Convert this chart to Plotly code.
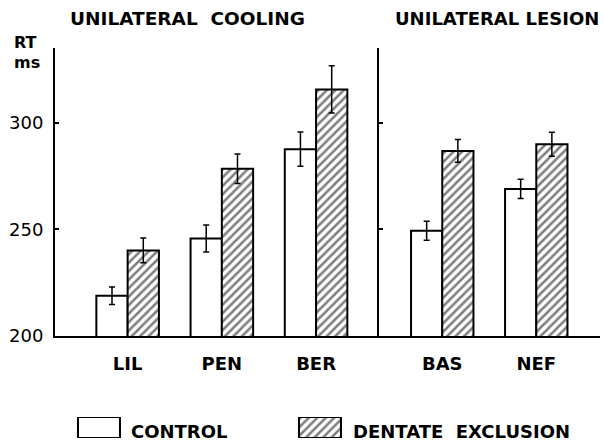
import plotly.graph_objects as go

# ---- data ----
cooling_cats = ["LIL", "PEN", "BER"]
cooling_control = [218.8, 245.7, 287.5]
cooling_control_err = [4.1, 6.3, 8.0]
cooling_dentate = [240.1, 278.3, 315.5]
cooling_dentate_err = [5.8, 6.9, 11.1]

lesion_cats = ["BAS", "NEF"]
lesion_control = [249.3, 268.9]
lesion_control_err = [4.5, 4.5]
lesion_dentate = [286.7, 289.8]
lesion_dentate_err = [5.3, 5.6]

y_ticks = [200, 250, 300]
legend_names = ["CONTROL", "DENTATE EXCLUSION"]

# ---- style ----
FONT = "DejaVu Sans"
BLACK = "black"
W, H = 604, 443
ML, MR, MT, MB = 55, 4, 48, 0
PW, PH = W - ML - MR, H - MT - MB


def px_x(px):
    return (px - ML) / PW


def px_y(py):
    return (H - MB - py) / PH


split = px_x(379)
main_bottom = px_y(336)

hatch = dict(shape="/", size=6, solidity=0.42, fgcolor=BLACK, bgcolor="white")
outline = dict(color=BLACK, width=2)
err_style = dict(type="data", color=BLACK, thickness=1.5, width=3)

fig = go.Figure()


def add_pair(cats, ctrl, ctrl_err, dent, dent_err, xa, ya):
    fig.add_trace(go.Bar(
        x=cats, y=ctrl, xaxis=xa, yaxis=ya,
        marker=dict(color="white", line=outline),
        error_y=dict(array=ctrl_err, **err_style),
        name=legend_names[0], showlegend=False, cliponaxis=False,
    ))
    fig.add_trace(go.Bar(
        x=cats, y=dent, xaxis=xa, yaxis=ya,
        marker=dict(color="white", line=outline, pattern=hatch),
        error_y=dict(array=dent_err, **err_style),
        name=legend_names[1], showlegend=False, cliponaxis=False,
    ))


add_pair(cooling_cats, cooling_control, cooling_control_err,
         cooling_dentate, cooling_dentate_err, "x", "y")
add_pair(lesion_cats, lesion_control, lesion_control_err,
         lesion_dentate, lesion_dentate_err, "x2", "y2")

# legend swatches drawn as bars on a hidden axis
fig.add_trace(go.Bar(
    x=legend_names, y=[1, 1], width=0.19, xaxis="x3", yaxis="y3",
    marker=dict(color="white", line=outline,
                pattern=dict(shape=["", "/"], size=6, solidity=0.42,
                             fgcolor=BLACK, bgcolor="white")),
    showlegend=False, cliponaxis=False, hoverinfo="skip",
))

cat_font = dict(family=FONT, size=18, color=BLACK, weight="bold")
yrange = [200, 334.9]

fig.update_layout(
    width=W, height=H, autosize=False,
    margin=dict(l=ML, r=MR, t=MT, b=MB, pad=0, autoexpand=False),
    paper_bgcolor="white", plot_bgcolor="white",
    barmode="group", bargap=0.336, bargroupgap=0,
    showlegend=False,
    font=dict(family=FONT, color=BLACK),
    xaxis=dict(domain=[0, split], anchor="y", range=[-0.771, 2.668],
               showline=True, linecolor=BLACK, linewidth=2, ticks="",
               showgrid=False, zeroline=False, tickfont=cat_font,
               ticklabelstandoff=10, automargin=False),
    yaxis=dict(domain=[main_bottom, 1], anchor="x", range=yrange,
               tickvals=y_ticks, ticks="inside", ticklen=4, tickwidth=1.5,
               tickcolor=BLACK, showline=True, linecolor=BLACK, linewidth=2,
               showgrid=False, zeroline=False,
               tickfont=dict(family=FONT, size=18, color=BLACK),
               ticklabelstandoff=6, automargin=False),
    xaxis2=dict(domain=[split, 1], anchor="y2", range=[-0.673, 1.678],
                showline=True, linecolor=BLACK, linewidth=2, ticks="",
                showgrid=False, zeroline=False, tickfont=cat_font,
                ticklabelstandoff=10, automargin=False),
    yaxis2=dict(domain=[main_bottom, 1], anchor="x2", range=yrange,
                tickvals=y_ticks[1:], ticks="inside", ticklen=4, tickwidth=1.5,
                tickcolor=BLACK, showline=True, linecolor=BLACK, linewidth=2,
                showgrid=False, zeroline=False, showticklabels=False,
                automargin=False),
    xaxis3=dict(domain=[0, 1], anchor="y3", range=[-0.199, 2.267],
                visible=False, automargin=False),
    yaxis3=dict(domain=[px_y(438), px_y(417)], anchor="x3", range=[0, 1],
                visible=False, automargin=False),
)

title_font = dict(family=FONT, size=18.5, color=BLACK, weight="bold")
label_font = dict(family=FONT, size=18, color=BLACK, weight="bold")
ann = [
    dict(text="UNILATERAL  COOLING", x=px_x(68), y=px_y(18.5),
         xanchor="left", yanchor="middle", font=title_font),
    dict(text="UNILATERAL LESION", x=px_x(601), y=px_y(18.5),
         xanchor="right", yanchor="middle",
         font=dict(family=FONT, size=18, color=BLACK, weight="bold")),
    dict(text="RT", x=px_x(12), y=px_y(42.5), xanchor="left",
         yanchor="middle", font=dict(family=FONT, size=16, color=BLACK, weight="bold")),
    dict(text="ms", x=px_x(12), y=px_y(62.5), xanchor="left",
         yanchor="middle", font=dict(family=FONT, size=16, color=BLACK, weight="bold")),
    dict(text=legend_names[0], x=px_x(129), y=px_y(431), xanchor="left",
         yanchor="middle", font=label_font),
    dict(text="DENTATE  EXCLUSION", x=px_x(351), y=px_y(431), xanchor="left",
         yanchor="middle", font=label_font),
]
for a in ann:
    fig.add_annotation(xref="paper", yref="paper", showarrow=False, **a)

fig.write_html("out.html")
